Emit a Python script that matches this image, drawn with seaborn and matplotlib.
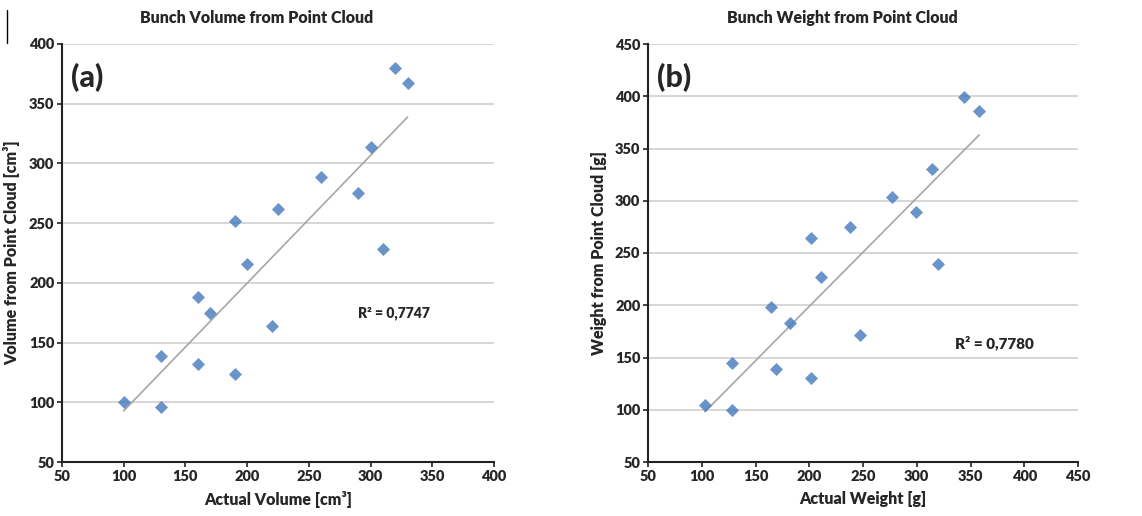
import numpy as np
import pandas as pd
import matplotlib
matplotlib.use("Agg")
import matplotlib.pyplot as plt
import seaborn as sns

# panel (a): bunch volume
vol_actual = [100, 130, 130, 160, 160, 170, 190, 190, 200, 220, 225, 260, 290, 300, 310, 320, 330]
vol_cloud = [100, 96, 139, 188, 132, 175, 252, 124, 216, 164, 262, 289, 275, 314, 228, 380, 367]

# panel (b): bunch weight
wt_actual = [103, 128, 128, 164, 169, 182, 202, 202, 211, 238, 247, 277, 299, 314, 320, 344, 358]
wt_cloud = [105, 100, 145, 198, 139, 183, 264, 130, 227, 275, 172, 304, 289, 330, 239, 399, 386]

r2_labels = ["R\u00b2 = 0,7747", "R\u00b2 = 0,7780"]

sns.set_style("white")
plt.rcParams["font.family"] = ["Lato", "DejaVu Sans"]
plt.rcParams["font.weight"] = "bold"

POINT_COLOR = "#4479bd"
LINE_COLOR = "#a6a6a6"


def draw_panel(ax, x, y, title, xlabel, ylabel, xmax, ymax, tag, r2_text, r2_pos, r2_size):
    df = pd.DataFrame({"x": x, "y": y})
    sns.regplot(data=df, x="x", y="y", ax=ax, ci=None, truncate=True,
                marker="D", scatter_kws={"s": 44, "color": POINT_COLOR, "linewidths": 0, "zorder": 3},
                line_kws={"color": LINE_COLOR, "lw": 1.2, "zorder": 2})
    ax.set_xlim(50, xmax)
    ax.set_ylim(50, ymax)
    ax.set_xticks(np.arange(50, xmax + 1, 50))
    ax.set_yticks(np.arange(50, ymax + 1, 50))
    ax.yaxis.grid(True, color="#d0d0d0", lw=1.2)
    ax.set_axisbelow(True)
    for s in ["top", "right"]:
        ax.spines[s].set_visible(False)
    for s in ["left", "bottom"]:
        ax.spines[s].set_color("#222222")
        ax.spines[s].set_linewidth(1.5)
    ax.tick_params(axis="both", which="both", direction="out", length=3.5, width=1.2,
                   color="#222222", labelsize=10.5, bottom=True, left=True, pad=2)
    # Excel centres the title on the whole chart area, a bit left of the plot centre
    ax.set_title(title, fontsize=11.5, fontweight="heavy", pad=15, x=0.451)
    ax.set_xlabel(xlabel, fontsize=11.5, fontweight="heavy", labelpad=6)
    ax.set_ylabel(ylabel, fontsize=11.5, fontweight="heavy", labelpad=6)
    ax.text(0.02, 0.92, tag, transform=ax.transAxes, fontsize=22, fontweight="black", va="center")
    ax.text(r2_pos[0], r2_pos[1], r2_text, fontsize=r2_size, fontweight="heavy", va="center")


fig, axes = plt.subplots(1, 2, figsize=(11.42, 5.16), dpi=100)

draw_panel(axes[0], vol_actual, vol_cloud, "Bunch Volume from Point Cloud",
           "Actual Volume [cm\u00b3]", "Volume from Point Cloud [cm\u00b3]",
           400, 400, "(a)", r2_labels[0], (290, 175), 10)
draw_panel(axes[1], wt_actual, wt_cloud, "Bunch Weight from Point Cloud",
           "Actual Weight [g]", "Weight from Point Cloud [g]",
           450, 450, "(b)", r2_labels[1], (336, 164), 11)

axes[0].set_position([62 / 1142, 1 - 462 / 516, 432 / 1142, 418 / 516])
axes[1].set_position([648 / 1142, 1 - 462 / 516, 430 / 1142, 418 / 516])

for ax in axes:
    plt.setp(ax.get_xticklabels() + ax.get_yticklabels(), fontweight="heavy")

fig.add_artist(plt.Line2D([7 / 1142, 7 / 1142], [1 - 43 / 516, 1 - 10 / 516], color="black", lw=1))

fig.savefig("out.png", dpi=100)
